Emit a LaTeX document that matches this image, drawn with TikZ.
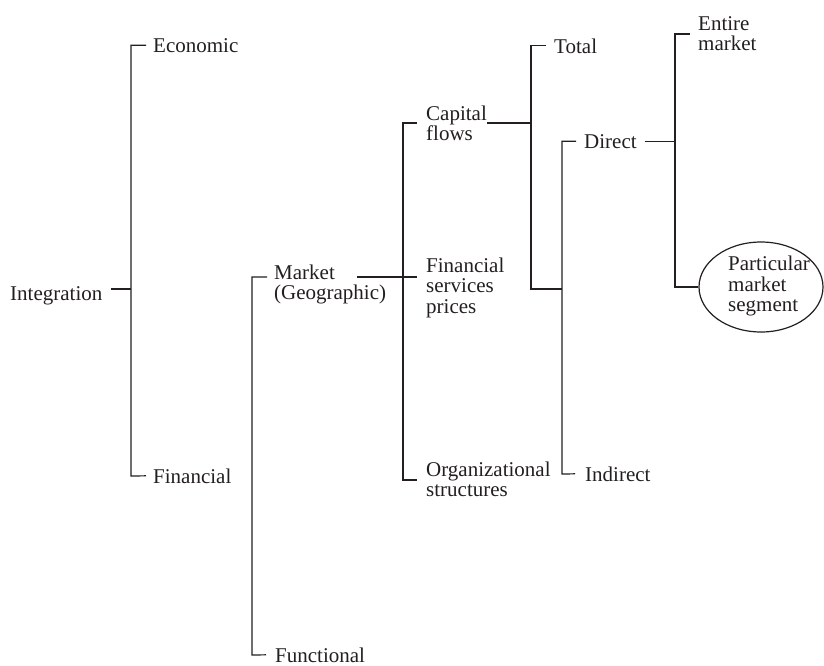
\documentclass[tikz,border=0pt]{standalone}
\usepackage{fontspec}
\setmainfont{Liberation Serif}
\usetikzlibrary{shapes.geometric}
\definecolor{ink}{HTML}{231F20}
\newcommand{\mlines}[1]{\begin{tabular}[t]{@{}l@{}}#1\end{tabular}}
\begin{document}
\begin{tikzpicture}[x=1pt,y=-1pt]
\tikzset{
  lbl/.style={inner sep=0pt, anchor=base west, text=ink, font=\fontsize{21pt}{20.5pt}\selectfont},
  ln/.style={draw=ink, line width=1.2pt},
  oval/.style={ellipse, draw=ink, line width=1.2pt, minimum width=124pt, minimum height=90pt,
               inner xsep=-8pt, inner ysep=0pt, text=ink, font=\fontsize{21pt}{20.5pt}\selectfont}
}
\useasboundingbox (0,0) rectangle (824,665);

% labels
\node[lbl] (int) at (10,300) {Integration};
\node[lbl] (eco) at (153,52) {Economic};
\node[lbl] (fin) at (153,483) {Financial};
\node[lbl] (mkt) at (274,279) {\mlines{Market\\(Geographic)}};
\node[lbl] (fun) at (275,662) {Functional};
\node[lbl] (cap) at (426,120) {\mlines{Capital\\flows}};
\node[lbl] (fsp) at (426,272) {\mlines{Financial\\services\\prices}};
\node[lbl] (org) at (426,476) {\mlines{Organizational\\structures}};
\node[lbl] (tot) at (554,53) {Total};
\node[lbl] (dir) at (584,148) {Direct};
\node[lbl] (ind) at (585,481) {Indirect};
\node[lbl] (ent) at (698,30) {\mlines{Entire\\market}};
\node[oval] (pms) at (761,287) {\hspace*{16pt}\mlines{Particular\\market\\segment}};

% junction points
\coordinate (aMid) at (131,289);
\coordinate (aBot) at (131,476);
\coordinate (bBot) at (252,655);
\coordinate (cBot) at (403,480);
\coordinate (dCap) at (531,123);
\coordinate (dBot) at (531,289);
\coordinate (eMid) at (562,289);
\coordinate (eBot) at (562,474);
\coordinate (fBot) at (675,287);

% bracket A: Integration
\draw[ln] ([xshift=8pt]int.east |- aMid) -- (aMid);
\draw[ln] ([xshift=-7pt]eco.west) -| (aBot) -- ([xshift=-7pt]fin.west);

% bracket B: Market / Functional
\draw[ln] ([shift={(-7,-2)}]mkt.base west) -| (bBot) -- ([xshift=-9pt]fun.west);
\draw[ln] ([shift={(83,-2)}]mkt.base west) -- ([shift={(-9,5)}]fsp.base west);

% bracket C: Capital flows / Financial services prices / Organizational structures
\draw[ln] ([shift={(-9,3)}]cap.base west) -| (cBot) -- ([shift={(-9,4)}]org.base west);
\draw[ln] ([yshift=-3pt]cap.base east) -- (dCap);

% bracket D: Total / (Direct-Indirect)
\draw[ln] ([xshift=-8pt]tot.west) -| (dBot) -- (eMid);

% bracket E: Direct / Indirect
\draw[ln] ([xshift=-8pt]dir.west) -| (eBot) -- ([xshift=-10pt]ind.west);
\draw[ln] ([xshift=8pt]dir.east) -- ([xshift=38pt]dir.east) coordinate (fMid);

% bracket F: Entire market / Particular market segment
\draw[ln] ([shift={(-8,4)}]ent.base west) -| (fBot) -- (pms.west);
\end{tikzpicture}
\end{document}
